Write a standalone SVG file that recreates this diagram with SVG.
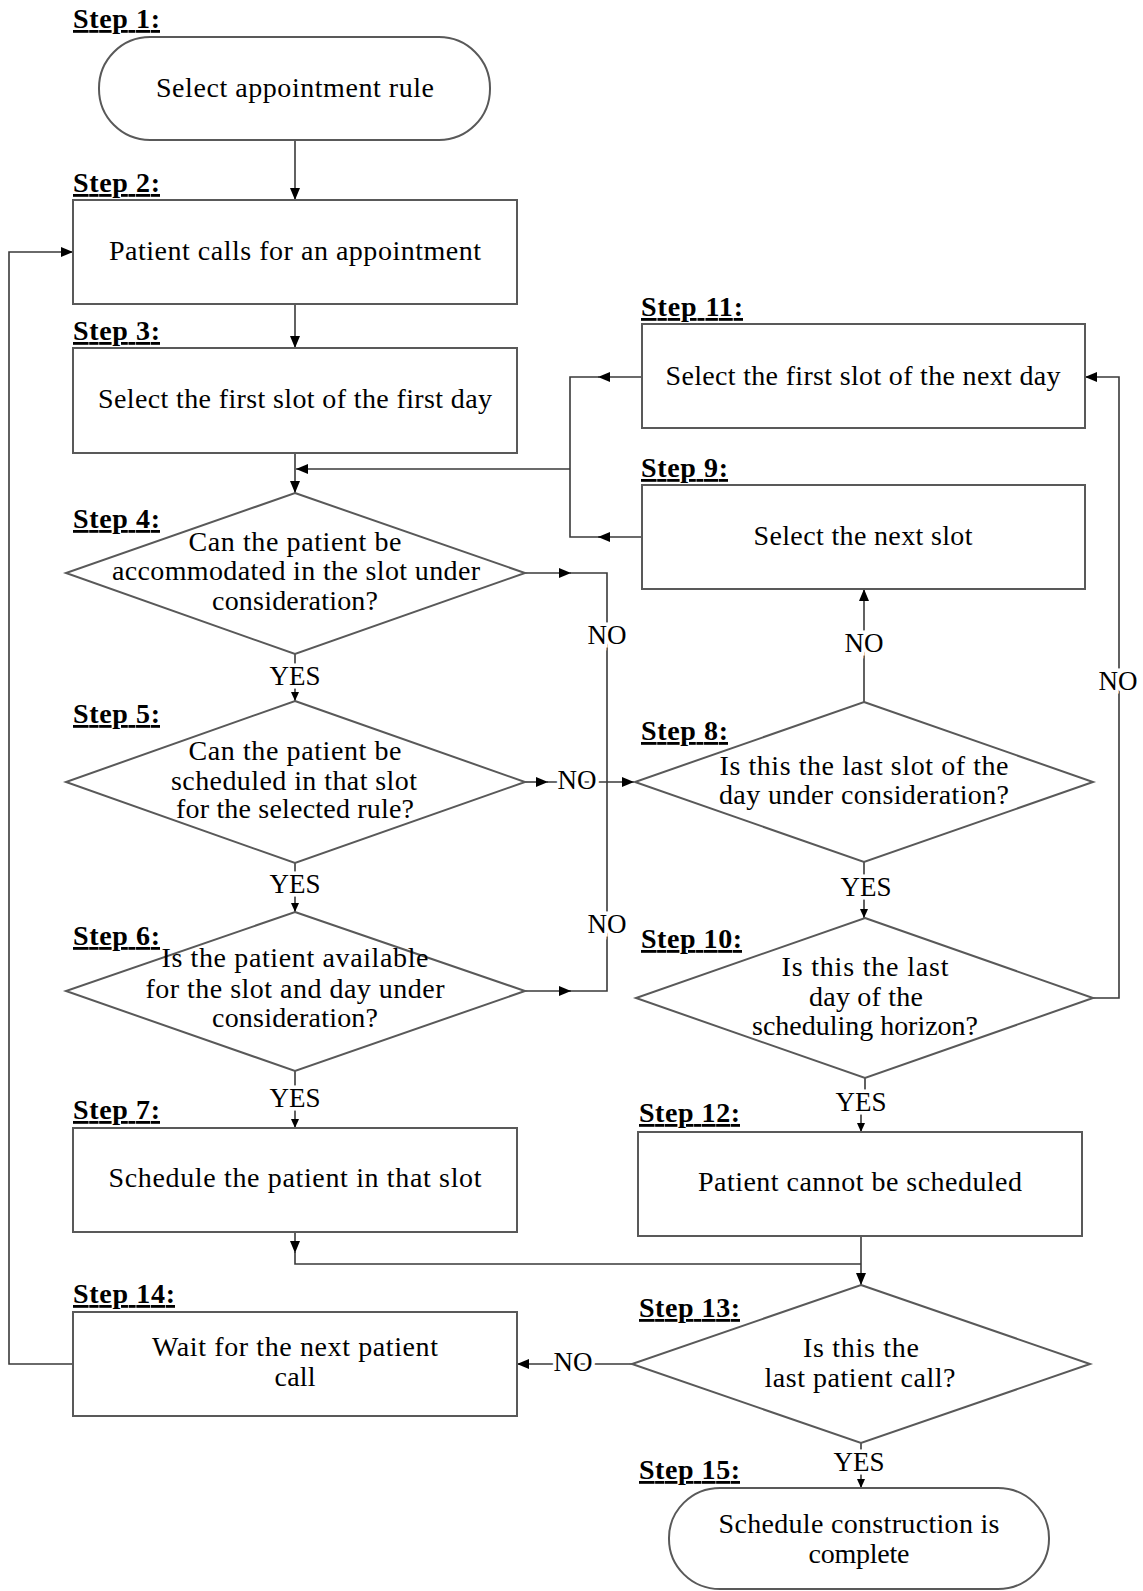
<svg xmlns="http://www.w3.org/2000/svg" width="1143" height="1591" viewBox="0 0 1143 1591">
<style>
.box{fill:#fff;stroke:#595959;stroke-width:2}
.conn{fill:none;stroke:#3a3a3a;stroke-width:1.6}
.t{font-family:"Liberation Serif","Times New Roman",serif;font-size:28px;text-anchor:middle;fill:#000}
.lbl{font-family:"Liberation Serif","Times New Roman",serif;font-size:27px;text-anchor:middle;fill:#000;paint-order:stroke;stroke:#fff;stroke-width:7px}
.step{font-family:"Liberation Serif","Times New Roman",serif;font-size:28px;font-weight:bold;text-decoration:underline;fill:#000}
</style>
<defs>
<marker id="a" markerUnits="userSpaceOnUse" markerWidth="12" markerHeight="10" refX="12" refY="5" orient="auto"><path d="M0,0 L12,5 L0,10 z" fill="#000"/></marker>
<marker id="s" markerUnits="userSpaceOnUse" markerWidth="9" markerHeight="8" refX="9" refY="4" orient="auto"><path d="M0,0 L9,4 L0,8 z" fill="#000"/></marker>
</defs>
<g id="connectors">
<path class="conn" d="M295,140 V200" marker-end="url(#a)"/>
<path class="conn" d="M295,304 V348" marker-end="url(#a)"/>
<path class="conn" d="M295,453 V493" marker-end="url(#a)"/>
<path class="conn" d="M642,377 H598" marker-end="url(#a)"/>
<path class="conn" d="M600,377 H570 V537 H600"/>
<path class="conn" d="M642,537 H598" marker-end="url(#a)"/>
<path class="conn" d="M570,469 H296" marker-end="url(#a)"/>
<path class="conn" d="M295,654 V701" marker-end="url(#s)"/>
<path class="conn" d="M525,573 H571" marker-end="url(#a)"/>
<path class="conn" d="M569,573 H607 V991 H569"/>
<path class="conn" d="M525,991 H571" marker-end="url(#a)"/>
<path class="conn" d="M525,782 H548" marker-end="url(#a)"/>
<path class="conn" d="M546,782 H634" marker-end="url(#a)"/>
<path class="conn" d="M295,863 V912" marker-end="url(#s)"/>
<path class="conn" d="M295,1071 V1128" marker-end="url(#s)"/>
<path class="conn" d="M295,1232 V1253" marker-end="url(#a)"/>
<path class="conn" d="M295,1251 V1264 H861"/>
<path class="conn" d="M861,1236 V1285" marker-end="url(#a)"/>
<path class="conn" d="M864,702 V589" marker-end="url(#a)"/>
<path class="conn" d="M864,862 V918" marker-end="url(#s)"/>
<path class="conn" d="M1093,998 H1119 V377 H1085" marker-end="url(#a)"/>
<path class="conn" d="M865,1078 V1100 H861 V1132" marker-end="url(#s)"/>
<path class="conn" d="M632,1364 H517" marker-end="url(#a)"/>
<path class="conn" d="M73,1364 H9 V252 H73" marker-end="url(#a)"/>
<path class="conn" d="M861,1443 V1488" marker-end="url(#s)"/>
<text class="lbl" x="295" y="685">YES</text>
<text class="lbl" x="295" y="893">YES</text>
<text class="lbl" x="295" y="1107">YES</text>
<text class="lbl" x="607" y="644">NO</text>
<text class="lbl" x="607" y="933">NO</text>
<text class="lbl" x="577" y="789">NO</text>
<text class="lbl" x="864" y="652">NO</text>
<text class="lbl" x="866" y="896">YES</text>
<text class="lbl" x="1118" y="690">NO</text>
<text class="lbl" x="861" y="1111">YES</text>
<text class="lbl" x="573" y="1371">NO</text>
<text class="lbl" x="859" y="1471">YES</text>
</g>
<g id="step1">
<text class="step" x="73" y="28" textLength="87" lengthAdjust="spacing">Step 1:</text>
<rect class="box" x="99" y="37" width="391" height="103" rx="51" ry="51"/>
<text class="t" x="295" y="97" textLength="278" lengthAdjust="spacing">Select appointment rule</text>
</g>
<g id="step2">
<text class="step" x="73" y="192" textLength="87" lengthAdjust="spacing">Step 2:</text>
<rect class="box" x="73" y="200" width="444" height="104"/>
<text class="t" x="295" y="260" textLength="372" lengthAdjust="spacing">Patient calls for an appointment</text>
</g>
<g id="step3">
<text class="step" x="73" y="340" textLength="87" lengthAdjust="spacing">Step 3:</text>
<rect class="box" x="73" y="348" width="444" height="105"/>
<text class="t" x="295" y="408" textLength="394" lengthAdjust="spacing">Select the first slot of the first day</text>
</g>
<g id="step4">
<polygon class="box" points="295,493 525,573 295,654 66,573"/>
<text class="step" x="73" y="528" textLength="87" lengthAdjust="spacing">Step 4:</text>
<text class="t" x="295" y="551" textLength="213" lengthAdjust="spacing">Can the patient be</text>
<text class="t" x="296" y="580" textLength="368" lengthAdjust="spacing">accommodated in the slot under</text>
<text class="t" x="295" y="610" textLength="166" lengthAdjust="spacing">consideration?</text>
</g>
<g id="step5">
<polygon class="box" points="295,701 525,782 295,863 66,782"/>
<text class="step" x="73" y="723" textLength="87" lengthAdjust="spacing">Step 5:</text>
<text class="t" x="295" y="760" textLength="213" lengthAdjust="spacing">Can the patient be</text>
<text class="t" x="294" y="790" textLength="246" lengthAdjust="spacing">scheduled in that slot</text>
<text class="t" x="295" y="818" textLength="238" lengthAdjust="spacing">for the selected rule?</text>
</g>
<g id="step6">
<polygon class="box" points="295,912 525,991 295,1071 66,991"/>
<text class="step" x="73" y="945" textLength="87" lengthAdjust="spacing">Step 6:</text>
<text class="t" x="295" y="967" textLength="267" lengthAdjust="spacing">Is the patient available</text>
<text class="t" x="295" y="998" textLength="299" lengthAdjust="spacing">for the slot and day under</text>
<text class="t" x="295" y="1027" textLength="166" lengthAdjust="spacing">consideration?</text>
</g>
<g id="step7">
<text class="step" x="73" y="1119" textLength="87" lengthAdjust="spacing">Step 7:</text>
<rect class="box" x="73" y="1128" width="444" height="104"/>
<text class="t" x="295" y="1187" textLength="373" lengthAdjust="spacing">Schedule the patient in that slot</text>
</g>
<g id="step8">
<polygon class="box" points="864,702 1093,782 864,862 635,782"/>
<text class="step" x="641" y="740" textLength="87" lengthAdjust="spacing">Step 8:</text>
<text class="t" x="864" y="775" textLength="289" lengthAdjust="spacing">Is this the last slot of the</text>
<text class="t" x="864" y="804" textLength="290" lengthAdjust="spacing">day under consideration?</text>
</g>
<g id="step9">
<text class="step" x="641" y="477" textLength="87" lengthAdjust="spacing">Step 9:</text>
<rect class="box" x="642" y="485" width="443" height="104"/>
<text class="t" x="863" y="545" textLength="219" lengthAdjust="spacing">Select the next slot</text>
</g>
<g id="step10">
<polygon class="box" points="865,918 1093,998 865,1078 636,998"/>
<text class="step" x="641" y="948" textLength="101" lengthAdjust="spacing">Step 10:</text>
<text class="t" x="865" y="976" textLength="167" lengthAdjust="spacing">Is this the last</text>
<text class="t" x="866" y="1006" textLength="114" lengthAdjust="spacing">day of the</text>
<text class="t" x="865" y="1035" textLength="226" lengthAdjust="spacing">scheduling horizon?</text>
</g>
<g id="step11">
<text class="step" x="641" y="316" textLength="102" lengthAdjust="spacing">Step 11:</text>
<rect class="box" x="642" y="324" width="443" height="104"/>
<text class="t" x="863" y="385" textLength="395" lengthAdjust="spacing">Select the first slot of the next day</text>
</g>
<g id="step12">
<text class="step" x="639" y="1122" textLength="101" lengthAdjust="spacing">Step 12:</text>
<rect class="box" x="638" y="1132" width="444" height="104"/>
<text class="t" x="860" y="1191" textLength="324" lengthAdjust="spacing">Patient cannot be scheduled</text>
</g>
<g id="step13">
<polygon class="box" points="861,1285 1090,1364 861,1443 632,1364"/>
<text class="step" x="639" y="1317" textLength="101" lengthAdjust="spacing">Step 13:</text>
<text class="t" x="861" y="1357" textLength="116" lengthAdjust="spacing">Is this the</text>
<text class="t" x="860" y="1387" textLength="191" lengthAdjust="spacing">last patient call?</text>
</g>
<g id="step14">
<text class="step" x="73" y="1303" textLength="102" lengthAdjust="spacing">Step 14:</text>
<rect class="box" x="73" y="1312" width="444" height="104"/>
<text class="t" x="295" y="1356" textLength="286" lengthAdjust="spacing">Wait for the next patient</text>
<text class="t" x="295" y="1386" textLength="41" lengthAdjust="spacing">call</text>
</g>
<g id="step15">
<text class="step" x="639" y="1479" textLength="101" lengthAdjust="spacing">Step 15:</text>
<rect class="box" x="669" y="1488" width="380" height="101" rx="51" ry="50"/>
<text class="t" x="859" y="1533" textLength="281" lengthAdjust="spacing">Schedule construction is</text>
<text class="t" x="859" y="1563" textLength="101" lengthAdjust="spacing">complete</text>
</g>
</svg>
